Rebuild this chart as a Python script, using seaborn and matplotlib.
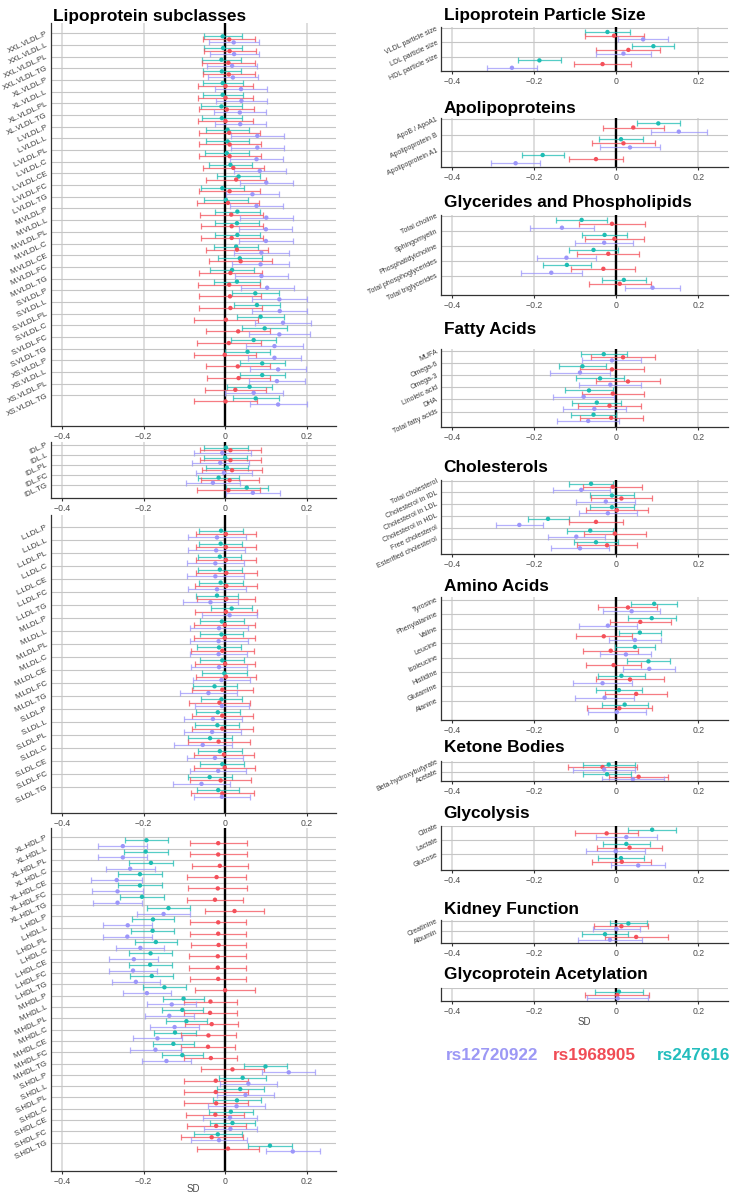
import numpy as np
import pandas as pd
import matplotlib
matplotlib.use("Agg")
import matplotlib.pyplot as plt
import seaborn as sns

sns.set_theme(style="white")
plt.rcParams['font.family'] = ['Liberation Sans', 'DejaVu Sans']
plt.rcParams['axes.unicode_minus'] = True

W, H = 730, 1195

# ---------------- data ----------------
SNPS = ["rs247616", "rs1968905", "rs12720922"]
LEGEND_ORDER = ["rs12720922", "rs1968905", "rs247616"]

VLDL_LABELS = ["XXL.VLDL.P", "XXL.VLDL.L", "XXL.VLDL.PL", "XXL.VLDL.TG",
               "XL.VLDL.P", "XL.VLDL.L", "XL.VLDL.PL", "XL.VLDL.TG",
               "L.VLDL.P", "L.VLDL.L", "L.VLDL.PL", "L.VLDL.C", "L.VLDL.CE", "L.VLDL.FC", "L.VLDL.TG",
               "M.VLDL.P", "M.VLDL.L", "M.VLDL.PL", "M.VLDL.C", "M.VLDL.CE", "M.VLDL.FC", "M.VLDL.TG",
               "S.VLDL.P", "S.VLDL.L", "S.VLDL.PL", "S.VLDL.C", "S.VLDL.FC", "S.VLDL.TG",
               "XS.VLDL.P", "XS.VLDL.L", "XS.VLDL.PL", "XS.VLDL.TG"]
VLDL_RS247616 = [-0.006, -0.005, -0.009, -0.008, -0.006, -0.006, -0.009, -0.008, 0.006, 0.006, 0.004, 0.013,
                 0.033, -0.007, 0.002, 0.030, 0.029, 0.030, 0.027, 0.036, 0.017, 0.029, 0.074, 0.078, 0.087,
                 0.097, 0.070, 0.055, 0.091, 0.091, 0.060, 0.075]
VLDL_RS247616_CI = [0.047, 0.047, 0.048, 0.047, 0.049, 0.049, 0.050, 0.049, 0.053, 0.053, 0.054, 0.053, 0.053,
                    0.053, 0.054, 0.055, 0.055, 0.055, 0.054, 0.054, 0.054, 0.056, 0.057, 0.056, 0.057, 0.056,
                    0.056, 0.055, 0.055, 0.055, 0.055, 0.056]
VLDL_RS1968905 = [0.010, 0.011, 0.008, 0.009, 0.001, 0.001, 0.004, 0.001, 0.010, 0.011, 0.011, 0.020, 0.027,
                  0.011, 0.007, 0.015, 0.016, 0.016, 0.029, 0.038, 0.013, 0.010, 0.012, 0.013, 0.002, 0.032,
                  0.009, -0.001, 0.031, 0.033, 0.025, 0.001]
VLDL_RS1968905_CI = [0.064, 0.064, 0.065, 0.064, 0.067, 0.067, 0.067, 0.068, 0.075, 0.076, 0.076, 0.075, 0.074,
                     0.074, 0.076, 0.077, 0.076, 0.076, 0.076, 0.077, 0.077, 0.076, 0.077, 0.078, 0.079, 0.079,
                     0.078, 0.076, 0.078, 0.078, 0.075, 0.078]
VLDL_RS12720922 = [0.021, 0.022, 0.017, 0.019, 0.039, 0.040, 0.036, 0.037, 0.079, 0.079, 0.077, 0.085, 0.101,
                   0.067, 0.077, 0.101, 0.100, 0.100, 0.089, 0.087, 0.089, 0.103, 0.133, 0.134, 0.142, 0.133,
                   0.121, 0.121, 0.130, 0.127, 0.070, 0.130]
VLDL_RS12720922_CI = [0.061, 0.060, 0.061, 0.061, 0.063, 0.062, 0.064, 0.063, 0.065, 0.065, 0.064, 0.064, 0.065,
                      0.064, 0.064, 0.065, 0.065, 0.066, 0.067, 0.069, 0.065, 0.065, 0.067, 0.068, 0.068, 0.074,
                      0.069, 0.065, 0.068, 0.068, 0.071, 0.070]

IDL_LABELS = ["IDL.P", "IDL.L", "IDL.PL", "IDL.FC", "IDL.TG"]
IDL_RS247616 = [0.002, 0.000, 0.004, -0.016, 0.053]
IDL_RS247616_CI = [0.053, 0.053, 0.051, 0.050, 0.052]
IDL_RS1968905 = [0.013, 0.013, 0.017, 0.011, 0.008]
IDL_RS1968905_CI = [0.075, 0.074, 0.073, 0.071, 0.078]
IDL_RS12720922 = [-0.007, -0.012, -0.003, -0.030, 0.068]
IDL_RS12720922_CI = [0.070, 0.070, 0.069, 0.066, 0.067]

LDL_LABELS = ["L.LDL.P", "L.LDL.L", "L.LDL.PL", "L.LDL.C", "L.LDL.CE", "L.LDL.FC", "L.LDL.TG",
              "M.LDL.P", "M.LDL.L", "M.LDL.PL", "M.LDL.C", "M.LDL.CE", "M.LDL.FC", "M.LDL.TG",
              "S.LDL.P", "S.LDL.L", "S.LDL.PL", "S.LDL.C", "S.LDL.CE", "S.LDL.FC", "S.LDL.TG"]
LDL_RS247616 = [-0.010, -0.011, -0.013, -0.013, -0.011, -0.020, 0.016, -0.008, -0.009, -0.015, -0.007, -0.002,
                -0.026, -0.009, -0.018, -0.019, -0.037, -0.013, -0.007, -0.038, -0.017]
LDL_RS247616_CI = [0.053, 0.053, 0.053, 0.054, 0.054, 0.051, 0.051, 0.054, 0.053, 0.055, 0.054, 0.055, 0.054,
                   0.051, 0.054, 0.054, 0.055, 0.054, 0.054, 0.054, 0.052]
LDL_RS1968905 = [0.002, 0.002, 0.002, 0.003, 0.003, 0.003, 0.002, -0.001, -0.001, -0.007, 0.000, 0.002, -0.007,
                 -0.014, -0.007, -0.007, -0.016, -0.003, -0.001, -0.011, -0.007]
LDL_RS1968905_CI = [0.073, 0.073, 0.073, 0.075, 0.076, 0.071, 0.075, 0.075, 0.075, 0.077, 0.074, 0.073, 0.075,
                    0.074, 0.075, 0.075, 0.076, 0.074, 0.075, 0.075, 0.077]
LDL_RS12720922 = [-0.020, -0.022, -0.024, -0.024, -0.020, -0.036, 0.011, -0.015, -0.016, -0.016, -0.015, -0.009,
                  -0.041, -0.008, -0.030, -0.032, -0.055, -0.025, -0.017, -0.058, -0.008]
LDL_RS12720922_CI = [0.070, 0.070, 0.070, 0.070, 0.071, 0.067, 0.067, 0.070, 0.071, 0.070, 0.069, 0.071, 0.070,
                     0.067, 0.071, 0.070, 0.071, 0.069, 0.069, 0.070, 0.068]

HDL_LABELS = ["XL.HDL.P", "XL.HDL.L", "XL.HDL.PL", "XL.HDL.C", "XL.HDL.CE", "XL.HDL.FC", "XL.HDL.TG",
              "L.HDL.P", "L.HDL.L", "L.HDL.PL", "L.HDL.C", "L.HDL.CE", "L.HDL.FC", "L.HDL.TG",
              "M.HDL.P", "M.HDL.L", "M.HDL.PL", "M.HDL.C", "M.HDL.CE", "M.HDL.FC", "M.HDL.TG",
              "S.HDL.P", "S.HDL.L", "S.HDL.PL", "S.HDL.C", "S.HDL.CE", "S.HDL.FC", "S.HDL.TG"]
HDL_RS247616 = [-0.193, -0.195, -0.182, -0.209, -0.209, -0.204, -0.139, -0.177, -0.178, -0.170, -0.183, -0.184,
                -0.180, -0.149, -0.102, -0.105, -0.095, -0.123, -0.127, -0.105, 0.099, 0.043, 0.037, 0.029,
                0.014, 0.018, -0.018, 0.110]
HDL_RS247616_CI = [0.053, 0.054, 0.054, 0.054, 0.055, 0.054, 0.053, 0.052, 0.052, 0.052, 0.053, 0.053, 0.053,
                   0.053, 0.050, 0.050, 0.050, 0.051, 0.050, 0.050, 0.053, 0.058, 0.058, 0.058, 0.054, 0.055,
                   0.059, 0.055]
HDL_RS1968905 = [-0.017, -0.017, -0.013, -0.021, -0.018, -0.025, 0.023, -0.017, -0.017, -0.016, -0.018, -0.018,
                 -0.017, 0.000, -0.036, -0.037, -0.033, -0.041, -0.042, -0.035, 0.018, -0.023, -0.023, -0.022,
                 -0.024, -0.022, -0.033, 0.007]
HDL_RS1968905_CI = [0.070, 0.070, 0.069, 0.072, 0.072, 0.069, 0.073, 0.069, 0.069, 0.068, 0.070, 0.070, 0.069,
                    0.073, 0.066, 0.065, 0.065, 0.067, 0.067, 0.065, 0.077, 0.078, 0.078, 0.078, 0.071, 0.072,
                    0.076, 0.075]
HDL_RS12720922 = [-0.251, -0.251, -0.233, -0.266, -0.264, -0.264, -0.151, -0.239, -0.240, -0.208, -0.224, -0.226,
                  -0.219, -0.192, -0.131, -0.137, -0.124, -0.166, -0.171, -0.144, 0.156, 0.057, 0.050, 0.028,
                  0.012, 0.013, -0.015, 0.166]
HDL_RS12720922_CI = [0.060, 0.060, 0.060, 0.062, 0.063, 0.061, 0.065, 0.060, 0.060, 0.059, 0.060, 0.060, 0.059,
                     0.059, 0.060, 0.060, 0.060, 0.061, 0.062, 0.060, 0.065, 0.070, 0.070, 0.071, 0.067, 0.066,
                     0.069, 0.066]

SIZE_LABELS = ["VLDL particle size", "LDL particle size", "HDL particle size"]
SIZE_RS247616 = [-0.022, 0.090, -0.188]
SIZE_RS247616_CI = [0.054, 0.051, 0.053]
SIZE_RS1968905 = [-0.006, 0.029, -0.034]
SIZE_RS1968905_CI = [0.072, 0.078, 0.069]
SIZE_RS12720922 = [0.065, 0.017, -0.255]
SIZE_RS12720922_CI = [0.061, 0.068, 0.060]

APO_LABELS = ["ApoB / ApoA1", "Apolipoprotein B", "Apolipoprotein A1"]
APO_RS247616 = [0.102, 0.011, -0.180]
APO_RS247616_CI = [0.053, 0.054, 0.051]
APO_RS1968905 = [0.041, 0.017, -0.050]
APO_RS1968905_CI = [0.075, 0.077, 0.065]
APO_RS12720922 = [0.152, 0.033, -0.246]
APO_RS12720922_CI = [0.069, 0.074, 0.060]

GLY_LABELS = ["Total choline", "Sphingomyelin", "Phosphatidylcholine", "Total phosphoglycerides",
              "Total triglycerides"]
GLY_RS247616 = [-0.085, -0.029, -0.056, -0.121, 0.018]
GLY_RS247616_CI = [0.062, 0.055, 0.059, 0.058, 0.054]
GLY_RS1968905 = [-0.011, -0.005, -0.020, -0.032, 0.008]
GLY_RS1968905_CI = [0.081, 0.071, 0.076, 0.078, 0.076]
GLY_RS12720922 = [-0.133, -0.030, -0.122, -0.159, 0.088]
GLY_RS12720922_CI = [0.077, 0.071, 0.072, 0.074, 0.067]

FA_LABELS = ["MUFA", "Omega-6", "Omega-3", "Linoleic acid", "DHA", "Total fatty acids"]
FA_RS247616 = [-0.031, -0.083, -0.040, -0.067, -0.048, -0.056]
FA_RS247616_CI = [0.056, 0.057, 0.059, 0.058, 0.060, 0.056]
FA_RS1968905 = [0.016, -0.011, 0.028, -0.009, -0.017, -0.013]
FA_RS1968905_CI = [0.079, 0.077, 0.079, 0.075, 0.078, 0.077]
FA_RS12720922 = [-0.011, -0.089, -0.015, -0.080, -0.054, -0.069]
FA_RS12720922_CI = [0.072, 0.074, 0.076, 0.074, 0.077, 0.075]

CHOL_LABELS = ["Total cholesterol", "Cholesterol in IDL", "Cholesterol in LDL", "Cholesterol in HDL",
               "Free cholesterol", "Esterified cholesterol"]
CHOL_RS247616 = [-0.062, -0.011, -0.011, -0.167, -0.064, -0.050]
CHOL_RS247616_CI = [0.053, 0.054, 0.054, 0.050, 0.056, 0.054]
CHOL_RS1968905 = [-0.009, 0.012, 0.001, -0.050, -0.004, -0.023]
CHOL_RS1968905_CI = [0.072, 0.075, 0.075, 0.065, 0.075, 0.074]
CHOL_RS12720922 = [-0.086, -0.026, -0.021, -0.237, -0.098, -0.089]
CHOL_RS12720922_CI = [0.069, 0.072, 0.070, 0.057, 0.070, 0.071]

AA_LABELS = ["Tyrosine", "Phenylalanine", "Valine", "Leucine", "Isoleucine", "Histidine", "Glutamine", "Alanine"]
AA_RS247616 = [0.092, 0.086, 0.057, 0.045, 0.078, 0.012, 0.006, 0.020]
AA_RS247616_CI = [0.056, 0.058, 0.051, 0.049, 0.052, 0.057, 0.056, 0.056]
AA_RS1968905 = [0.028, 0.058, -0.031, -0.014, -0.007, 0.033, 0.048, 0.007]
AA_RS1968905_CI = [0.072, 0.074, 0.068, 0.067, 0.068, 0.082, 0.075, 0.079]
AA_RS12720922 = [0.037, -0.021, 0.045, 0.023, 0.080, -0.034, -0.029, 0.001]
AA_RS12720922_CI = [0.070, 0.071, 0.063, 0.062, 0.063, 0.072, 0.072, 0.071]

KET_LABELS = ["Beta-hydroxybutyrate", "Acetate"]
KET_RS247616 = [-0.019, -0.023]
KET_RS247616_CI = [0.063, 0.058]
KET_RS1968905 = [-0.034, 0.054]
KET_RS1968905_CI = [0.085, 0.072]
KET_RS12720922 = [-0.030, 0.040]
KET_RS12720922_CI = [0.076, 0.076]

GLYC_LABELS = ["Citrate", "Lactate", "Glucose"]
GLYC_RS247616 = [0.087, 0.024, 0.011]
GLYC_RS247616_CI = [0.059, 0.057, 0.057]
GLYC_RS1968905 = [-0.024, 0.032, 0.013]
GLYC_RS1968905_CI = [0.077, 0.079, 0.072]
GLYC_RS12720922 = [0.024, -0.002, 0.053]
GLYC_RS12720922_CI = [0.074, 0.072, 0.066]

KID_LABELS = ["Creatinine", "Albumin"]
KID_RS247616 = [0.029, -0.028]
KID_RS247616_CI = [0.046, 0.057]
KID_RS1968905 = [0.012, 0.048]
KID_RS1968905_CI = [0.066, 0.077]
KID_RS12720922 = [0.000, -0.016]
KID_RS12720922_CI = [0.057, 0.078]

GA_LABELS = [""]
GA_RS247616 = [0.006]
GA_RS247616_CI = [0.058]
GA_RS1968905 = [0.002]
GA_RS1968905_CI = [0.078]
GA_RS12720922 = [0.003]
GA_RS12720922_CI = [0.075]

X_TICKS = [-0.4, -0.2, 0.0, 0.2]
X_TICK_LABELS = ["\u22120.4", "\u22120.2", "0", "0.2"]

# ---------------- style ----------------
POINT_COLORS = {"rs247616": "#1DBDB4", "rs1968905": "#F4505A", "rs12720922": "#9C96FA"}
LEGEND_COLORS = {"rs12720922": "#9C98F5", "rs1968905": "#F04C55", "rs247616": "#22BDBD"}
OFFSETS = {"rs247616": 0.26, "rs1968905": 0.52, "rs12720922": 0.78}
XLIM = (-0.428, 0.272)

# panel: (title, data, box px (left, top, right, bottom), first gridline px, spacing px, title baseline px, label size)
PANELS = [
    ("Lipoprotein subclasses", (VLDL_LABELS, VLDL_RS247616, VLDL_RS247616_CI, VLDL_RS1968905, VLDL_RS1968905_CI,
                                VLDL_RS12720922, VLDL_RS12720922_CI), (50.7, 23, 336, 426), 33.3, 11.68, 21, 5.6),
    (None, (IDL_LABELS, IDL_RS247616, IDL_RS247616_CI, IDL_RS1968905, IDL_RS1968905_CI,
            IDL_RS12720922, IDL_RS12720922_CI), (50.7, 442, 336, 498), 445, 10.0, None, 5.6),
    (None, (LDL_LABELS, LDL_RS247616, LDL_RS247616_CI, LDL_RS1968905, LDL_RS1968905_CI,
            LDL_RS12720922, LDL_RS12720922_CI), (50.7, 515, 336, 813), 527.3, 12.97, None, 5.6),
    (None, (HDL_LABELS, HDL_RS247616, HDL_RS247616_CI, HDL_RS1968905, HDL_RS1968905_CI,
            HDL_RS12720922, HDL_RS12720922_CI), (50.7, 828, 336, 1170.7), 837.3, 11.31, None, 5.6),
    ("Lipoprotein Particle Size", (SIZE_LABELS, SIZE_RS247616, SIZE_RS247616_CI, SIZE_RS1968905, SIZE_RS1968905_CI,
                                   SIZE_RS12720922, SIZE_RS12720922_CI), (441, 27, 728, 71), 28.3, 14.2, 20, 5.0),
    ("Apolipoproteins", (APO_LABELS, APO_RS247616, APO_RS247616_CI, APO_RS1968905, APO_RS1968905_CI,
                         APO_RS12720922, APO_RS12720922_CI), (441, 118, 728, 167.3), 119.3, 15.8, 113.3, 5.0),
    ("Glycerides and Phospholipids", (GLY_LABELS, GLY_RS247616, GLY_RS247616_CI, GLY_RS1968905, GLY_RS1968905_CI,
                                      GLY_RS12720922, GLY_RS12720922_CI), (441, 215, 728, 295), 216, 15.0, 206.7, 5.0),
    ("Fatty Acids", (FA_LABELS, FA_RS247616, FA_RS247616_CI, FA_RS1968905, FA_RS1968905_CI,
                     FA_RS12720922, FA_RS12720922_CI), (441, 349, 728, 427.3), 351, 12.1, 334.3, 5.0),
    ("Cholesterols", (CHOL_LABELS, CHOL_RS247616, CHOL_RS247616_CI, CHOL_RS1968905, CHOL_RS1968905_CI,
                      CHOL_RS12720922, CHOL_RS12720922_CI), (441, 480, 728, 554), 480.7, 11.7, 472.3, 5.0),
    ("Amino Acids", (AA_LABELS, AA_RS247616, AA_RS247616_CI, AA_RS1968905, AA_RS1968905_CI,
                     AA_RS12720922, AA_RS12720922_CI), (441, 596.7, 728, 720), 600, 14.4, 591, 5.0),
    ("Ketone Bodies", (KET_LABELS, KET_RS247616, KET_RS247616_CI, KET_RS1968905, KET_RS1968905_CI,
                       KET_RS12720922, KET_RS12720922_CI), (441, 761, 728, 781), 762, 9.7, 752.3, 5.0),
    ("Glycolysis", (GLYC_LABELS, GLYC_RS247616, GLYC_RS247616_CI, GLYC_RS1968905, GLYC_RS1968905_CI,
                    GLYC_RS12720922, GLYC_RS12720922_CI), (441, 826, 728, 870), 826, 14.2, 818.3, 5.0),
    ("Kidney Function", (KID_LABELS, KID_RS247616, KID_RS247616_CI, KID_RS1968905, KID_RS1968905_CI,
                         KID_RS12720922, KID_RS12720922_CI), (441, 920, 728, 943.3), 920.7, 10.7, 914.3, 5.0),
    ("Glycoprotein Acetylation", (GA_LABELS, GA_RS247616, GA_RS247616_CI, GA_RS1968905, GA_RS1968905_CI,
                                  GA_RS12720922, GA_RS12720922_CI), (441, 988.3, 728, 1000.7), 986.5, 14.8, 979.3, 5.0),
]

fig = plt.figure(figsize=(W / 100, H / 100), dpi=100)
fig.patch.set_facecolor("white")


def draw_panel(title, data, box, grid0, spacing, title_y, label_size):
    labels, c_est, c_ci, r_est, r_ci, p_est, p_ci = data
    l, t, r, b = box
    ax = fig.add_axes([l / W, 1 - b / H, (r - l) / W, (b - t) / H])
    ax.set_facecolor("white")
    n = len(labels)
    frames = []
    series = {"rs247616": (c_est, c_ci), "rs1968905": (r_est, r_ci), "rs12720922": (p_est, p_ci)}
    for snp, (est, ci) in series.items():
        frames.append(pd.DataFrame({"label": labels, "row": np.arange(n), "est": est, "ci": ci, "snp": snp}))
    df = pd.concat(frames, ignore_index=True)
    df["y"] = df["row"] + df["snp"].map(OFFSETS)

    ax.axvline(0, color="black", lw=1.7, zorder=1.5)
    for snp in SNPS:
        sub = df[df["snp"] == snp]
        ax.errorbar(sub["est"], sub["y"], xerr=sub["ci"], fmt="none", ecolor=POINT_COLORS[snp],
                    elinewidth=0.9, capsize=2.0, capthick=0.9, alpha=0.75, zorder=2)
    sns.scatterplot(data=df, x="est", y="y", hue="snp", palette=POINT_COLORS, s=10, linewidth=0,
                    legend=False, ax=ax, zorder=3)

    ax.set_xlim(*XLIM)
    ax.set_ylim((b - grid0) / spacing, (t - grid0) / spacing)
    ax.set_xticks(X_TICKS)
    ax.set_xticklabels(X_TICK_LABELS)
    ax.set_yticks(np.arange(n))
    ax.set_yticklabels(labels, rotation=25, ha="right", va="center", rotation_mode="anchor")
    ax.set_xlabel("")
    ax.set_ylabel("")
    ax.grid(False)
    ax.yaxis.grid(True, color="#c6c6c6", lw=0.8, zorder=0)
    ax.xaxis.grid(True, color="#d8d8d8", lw=1.2, zorder=0)
    ax.set_axisbelow(True)
    for s in ["top", "right"]:
        ax.spines[s].set_visible(False)
    for s in ["left", "bottom"]:
        ax.spines[s].set_color("#333333")
        ax.spines[s].set_linewidth(0.9)
    ax.tick_params(axis="x", length=2.2, width=0.8, color="#333333", labelsize=6.3,
                   labelcolor="#4d4d4d", pad=2.2, bottom=True)
    ax.tick_params(axis="y", length=0, labelsize=label_size, labelcolor="#3a3a3a", pad=2.5, left=True)
    if title:
        fig.text(l / W + 2.5 / W, 1 - title_y / H, title, fontsize=12.4, fontweight="bold",
                 ha="left", va="baseline", color="black")
    return ax


for spec in PANELS:
    draw_panel(*spec)

# x axis titles
fig.text(193 / W, 1 - 1189 / H, "SD", fontsize=7, color="#4d4d4d", ha="center", va="center")
fig.text(584 / W, 1 - 1021.7 / H, "SD", fontsize=7, color="#4d4d4d", ha="center", va="center")

# legend as coloured text
LEGEND_X = {"rs12720922": 446, "rs1968905": 553, "rs247616": 657}
for snp in LEGEND_ORDER:
    fig.text(LEGEND_X[snp] / W, 1 - 1060.5 / H, snp, fontsize=12.3, fontweight="bold",
             color=LEGEND_COLORS[snp], ha="left", va="baseline")

fig.savefig("out.png", dpi=100, facecolor="white")
